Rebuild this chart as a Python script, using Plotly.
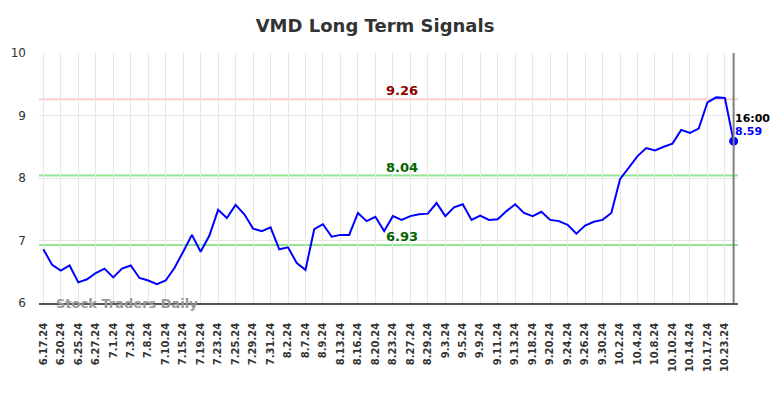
import plotly.graph_objects as go

even_dates = ["6.17.24", "6.20.24", "6.25.24", "6.27.24", "7.1.24", "7.3.24", "7.8.24", "7.10.24",
              "7.15.24", "7.19.24", "7.23.24", "7.25.24", "7.29.24", "7.31.24", "8.2.24", "8.7.24",
              "8.9.24", "8.13.24", "8.16.24", "8.20.24", "8.23.24", "8.27.24", "8.29.24", "9.3.24",
              "9.5.24", "9.9.24", "9.11.24", "9.13.24", "9.18.24", "9.20.24", "9.24.24", "9.26.24",
              "9.30.24", "10.2.24", "10.4.24", "10.8.24", "10.10.24", "10.14.24", "10.17.24", "10.23.24"]
odd_dates = ["6.18.24", "6.21.24", "6.26.24", "6.28.24", "7.2.24", "7.5.24", "7.9.24", "7.12.24",
             "7.17.24", "7.22.24", "7.24.24", "7.26.24", "7.30.24", "8.1.24", "8.6.24", "8.8.24",
             "8.12.24", "8.15.24", "8.19.24", "8.22.24", "8.26.24", "8.28.24", "8.30.24", "9.4.24",
             "9.6.24", "9.10.24", "9.12.24", "9.17.24", "9.19.24", "9.23.24", "9.25.24", "9.27.24",
             "10.1.24", "10.3.24", "10.7.24", "10.9.24", "10.11.24", "10.16.24", "10.21.24", "10.24.24"]
dates = [d for pair in zip(even_dates, odd_dates) for d in pair]

prices = [6.86, 6.61, 6.52, 6.60, 6.33, 6.38, 6.48, 6.55, 6.41, 6.55,
          6.60, 6.40, 6.36, 6.30, 6.36, 6.56, 6.82, 7.09, 6.82, 7.08,
          7.49, 7.36, 7.57, 7.42, 7.19, 7.15, 7.21, 6.86, 6.89, 6.64,
          6.53, 7.18, 7.26, 7.06, 7.09, 7.09, 7.44, 7.31, 7.38, 7.15,
          7.39, 7.33, 7.39, 7.42, 7.43, 7.60, 7.39, 7.53, 7.58, 7.33,
          7.40, 7.33, 7.34, 7.47, 7.58, 7.44, 7.39, 7.46, 7.33, 7.31,
          7.25, 7.11, 7.24, 7.30, 7.33, 7.44, 7.98, 8.17, 8.35, 8.48,
          8.44, 8.50, 8.55, 8.77, 8.72, 8.79, 9.21, 9.29, 9.28, 8.59]

resistance = 9.26
support_hi = 8.04
support_lo = 6.93
last_time = "16:00"
y_ticks = [6, 7, 8, 9, 10]
title_text = "VMD Long Term Signals"
watermark = "Stock Traders Daily"

font_family = "DejaVu Sans"
fig = go.Figure()

fig.add_trace(go.Scatter(x=dates, y=prices, mode="lines",
                         line=dict(color="#0000ff", width=2), hoverinfo="skip"))
fig.add_trace(go.Scatter(x=[dates[-1]], y=[prices[-1]], mode="markers",
                         marker=dict(color="#0000ff", size=9), hoverinfo="skip"))

fig.add_hline(y=resistance, line=dict(color="#ffcccc", width=2), layer="below")
fig.add_hline(y=support_hi, line=dict(color="#90e690", width=2), layer="below")
fig.add_hline(y=support_lo, line=dict(color="#90e690", width=2), layer="below")

fig.add_vline(x=len(dates) - 1, line=dict(color="#808080", width=2))

mid = dates[41]
for val, col in [(resistance, "#8b0000"), (support_hi, "#006400"), (support_lo, "#006400")]:
    fig.add_annotation(x=mid, y=val, text=f"{val:.2f}", showarrow=False, yshift=8.5,
                       font=dict(family=font_family, size=13, color=col, weight="bold"))

fig.add_annotation(x=dates[-1], y=prices[-1], text=last_time, showarrow=False,
                   xanchor="left", yshift=23, xshift=-1,
                   font=dict(family=font_family, size=11, color="#000000", weight="bold"))
fig.add_annotation(x=dates[-1], y=prices[-1], text=f"{prices[-1]:.2f}", showarrow=False,
                   xanchor="left", yshift=10, xshift=-1,
                   font=dict(family=font_family, size=11, color="#0000ff", weight="bold"))

fig.add_annotation(xref="paper", yref="paper", x=0.022, y=0.0, yanchor="middle", xanchor="left",
                   text=watermark, showarrow=False,
                   font=dict(family=font_family, size=13, color="#999999", weight="bold"))

fig.update_layout(
    width=776, height=390,
    margin=dict(l=31, r=46, t=45, b=95, autoexpand=False),
    paper_bgcolor="white", plot_bgcolor="white",
    showlegend=False,
    title=dict(text=title_text, x=0.473, xref="container", xanchor="center",
               y=0.954, yref="container", yanchor="middle",
               font=dict(family=font_family, size=18, color="#333333", weight="bold")),
    font=dict(family=font_family, color="#333333"),
)
fig.update_xaxes(type="category", categoryorder="array", categoryarray=dates,
                 range=[-0.5, len(dates) - 0.5], automargin=False,
                 tickmode="array", tickvals=dates[::2], ticktext=dates[::2],
                 tickangle=-90, tickfont=dict(family=font_family, size=10, color="#333333", weight="bold"),
                 ticklabelstandoff=14,
                 showgrid=True, gridcolor="#e6e6e6", gridwidth=1,
                 showline=True, linecolor="#555555", linewidth=1.5, ticks="", ticklen=0)
fig.update_yaxes(range=[6, 10], tickvals=y_ticks, showgrid=True, gridcolor="#e6e6e6",
                 zeroline=False, automargin=False, ticklabelstandoff=12,
                 tickfont=dict(family=font_family, size=12, color="#333333"),
                 ticks="", ticklen=0)

fig.write_html("out.html")
